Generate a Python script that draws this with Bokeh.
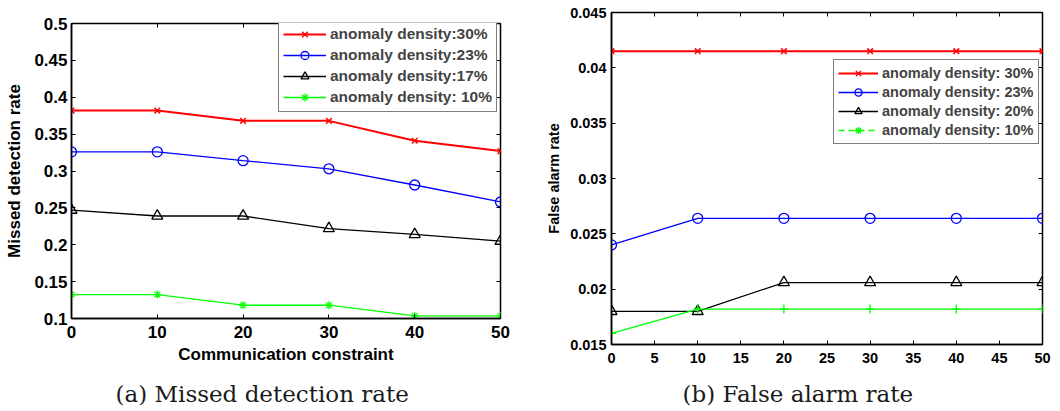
from bokeh.plotting import figure
from bokeh.layouts import row, column
from bokeh.models import (FixedTicker, LinearAxis, Legend, LegendItem, Label,
                          Range1d, ColumnDataSource)
from bokeh.embed import file_html
from bokeh.resources import INLINE

# ---------------- data ----------------
constraint = [0, 10, 20, 30, 40, 50]

miss_30 = [0.382, 0.382, 0.368, 0.368, 0.341, 0.327]
miss_23 = [0.326, 0.326, 0.314, 0.303, 0.281, 0.258]
miss_17 = [0.247, 0.239, 0.239, 0.222, 0.214, 0.205]
miss_10 = [0.1325, 0.1325, 0.118, 0.118, 0.1035, 0.1035]

fa_30 = [0.0415, 0.0415, 0.0415, 0.0415, 0.0415, 0.0415]
fa_23 = [0.0240, 0.0264, 0.0264, 0.0264, 0.0264, 0.0264]
fa_20 = [0.0180, 0.0180, 0.0206, 0.0206, 0.0206, 0.0206]
fa_10 = [0.0160, 0.0182, 0.0182, 0.0182, 0.0182, 0.0182]

left_xticks = [0, 10, 20, 30, 40, 50]
left_yticks = [0.1, 0.15, 0.2, 0.25, 0.3, 0.35, 0.4, 0.45, 0.5]
left_ylabels = ["0.1", "0.15", "0.2", "0.25", "0.3", "0.35", "0.4", "0.45", "0.5"]
right_xticks = [0, 5, 10, 15, 20, 25, 30, 35, 40, 45, 50]
right_yticks = [0.015, 0.02, 0.025, 0.03, 0.035, 0.04, 0.045]
right_ylabels = ["0.015", "0.02", "0.025", "0.03", "0.035", "0.04", "0.045"]

left_names = ["anomaly density:30%", "anomaly density:23%",
              "anomaly density:17%", "anomaly density: 10%"]
right_names = ["anomaly density: 30%", "anomaly density: 23%",
               "anomaly density: 20%", "anomaly density: 10%"]
captions = ["(a) Missed detection rate", "(b) False alarm rate"]

SANS = "Liberation Sans"
SERIF = "DejaVu Serif"


def style_axes(p, xticks, yticks, ylabels, tick_size):
    xa = p.below[0]
    ya = p.left[0]
    xa.ticker = FixedTicker(ticks=xticks)
    ya.ticker = FixedTicker(ticks=yticks)
    ya.major_label_overrides = {t: l for t, l in zip(yticks, ylabels)}
    for ax in (xa, ya):
        ax.major_tick_in = 4
        ax.major_tick_out = 0
        ax.minor_tick_line_color = None
        ax.axis_line_width = 1.5
        ax.major_tick_line_width = 1
        ax.major_label_text_font = SANS
        ax.major_label_text_font_style = "bold"
        ax.major_label_text_font_size = tick_size
        ax.major_label_text_color = "black"
        ax.axis_label_text_font = SANS
        ax.axis_label_text_font_style = "bold"
        ax.axis_label_text_color = "black"
    # top and right tick marks (box)
    top = LinearAxis(ticker=FixedTicker(ticks=xticks), major_tick_in=4, major_tick_out=0,
                     minor_tick_line_color=None, axis_line_color=None,
                     major_label_text_color=None, major_label_text_font_size="1px",
                     major_label_standoff=0)
    right = LinearAxis(ticker=FixedTicker(ticks=yticks), major_tick_in=4, major_tick_out=0,
                       minor_tick_line_color=None, axis_line_color=None,
                       major_label_text_color=None, major_label_text_font_size="1px",
                       major_label_standoff=0)
    p.add_layout(top, "above")
    p.add_layout(right, "right")
    p.xgrid.grid_line_color = None
    p.ygrid.grid_line_color = None
    p.outline_line_color = "black"
    p.outline_line_width = 1.5
    return xa, ya


def style_legend(leg, size, gw, gh):
    leg.label_text_font = SANS
    leg.label_text_font_style = "bold"
    leg.label_text_font_size = size
    leg.glyph_width = gw
    leg.glyph_height = gh
    leg.label_height = gh
    leg.spacing = 1
    leg.padding = 4
    leg.margin = 0
    leg.label_standoff = 4
    leg.border_line_color = "black"
    leg.border_line_width = 1.2
    leg.background_fill_alpha = 1


def caption_fig(text, x):
    c = figure(width=530, height=40, output_backend="svg", toolbar_location=None,
               x_range=Range1d(0, 1), y_range=Range1d(0, 1),
               x_axis_type=None, y_axis_type=None, min_border=0)
    c.outline_line_color = None
    c.xgrid.grid_line_color = None
    c.ygrid.grid_line_color = None
    c.add_layout(Label(x=x, y=18, x_units="screen", y_units="screen", text=text,
                       text_font=SERIF, text_font_size="23px", text_color="#1a1a1a",
                       text_align="left", text_baseline="middle"))
    return c


# ---------------- left figure ----------------
p1 = figure(width=530, height=371, output_backend="svg", toolbar_location=None,
            x_range=Range1d(0, 50), y_range=Range1d(0.1, 0.5),
            min_border_left=71, min_border_right=30, min_border_top=23,
            min_border_bottom=53)
xa1, ya1 = style_axes(p1, left_xticks, left_yticks, left_ylabels, "17px")
xa1.axis_label = "Communication constraint"
ya1.axis_label = "Missed detection rate"
xa1.axis_label_text_font_size = "17px"
ya1.axis_label_text_font_size = "17px"
xa1.major_label_standoff = 7
xa1.axis_label_standoff = 4
ya1.major_label_standoff = 4
ya1.axis_label_standoff = 7

src1 = ColumnDataSource(dict(x=constraint, a=miss_30, b=miss_23, c=miss_17, d=miss_10))
l1a = p1.line("x", "a", source=src1, line_color="#ff0000", line_width=2)
s1a = p1.scatter("x", "a", source=src1, marker="x", size=8, line_color="#ff0000", line_width=1.5)
l1b = p1.line("x", "b", source=src1, line_color="#0000ff", line_width=1.3)
s1b = p1.scatter("x", "b", source=src1, marker="circle", size=10, line_color="#0000ff",
                 fill_color=None, line_width=1.3)
l1c = p1.line("x", "c", source=src1, line_color="black", line_width=1.3)
s1c = p1.scatter("x", "c", source=src1, marker="triangle", size=11, line_color="black",
                 fill_color=None, line_width=1.3)
l1d = p1.line("x", "d", source=src1, line_color="#00ff00", line_width=1.3)
s1d = p1.scatter("x", "d", source=src1, marker="asterisk", size=8, line_color="#00ff00",
                 line_width=1.3)

leg1 = Legend(items=[
    LegendItem(label=left_names[0], renderers=[l1a, s1a]),
    LegendItem(label=left_names[1], renderers=[l1b, s1b]),
    LegendItem(label=left_names[2], renderers=[l1c, s1c]),
    LegendItem(label=left_names[3], renderers=[l1d, s1d]),
], location=(207, 206))
style_legend(leg1, "15.5px", 43, 20)
p1.add_layout(leg1, "center")

# ---------------- right figure ----------------
p2 = figure(width=530, height=371, output_backend="svg", toolbar_location=None,
            x_range=Range1d(0, 50), y_range=Range1d(0.015, 0.045),
            min_border_left=81, min_border_right=18, min_border_top=12,
            min_border_bottom=27)
xa2, ya2 = style_axes(p2, right_xticks, right_yticks, right_ylabels, "14.5px")
ya2.axis_label = "False alarm rate"
ya2.axis_label_text_font_size = "14.5px"
xa2.major_label_standoff = 8
ya2.major_label_standoff = 5
ya2.axis_label_standoff = 5

src2 = ColumnDataSource(dict(x=constraint, a=fa_30, b=fa_23, c=fa_20, d=fa_10))
l2a = p2.line("x", "a", source=src2, line_color="#ff0000", line_width=2)
s2a = p2.scatter("x", "a", source=src2, marker="x", size=8, line_color="#ff0000", line_width=1.5)
l2b = p2.line("x", "b", source=src2, line_color="#0000ff", line_width=1.3)
s2b = p2.scatter("x", "b", source=src2, marker="circle", size=10, line_color="#0000ff",
                 fill_color=None, line_width=1.3)
l2c = p2.line("x", "c", source=src2, line_color="black", line_width=1.3)
s2c = p2.scatter("x", "c", source=src2, marker="triangle", size=11, line_color="black",
                 fill_color=None, line_width=1.3)
l2d = p2.line("x", "d", source=src2, line_color="#00ff00", line_width=1.3)
s2d = p2.scatter("x", "d", source=src2, marker="cross", size=9, line_color="#00ff00",
                 line_width=1.3)
# key glyphs for the 10% series (dashed line with asterisk, as in the key)
nan = float("nan")
keysrc = ColumnDataSource(dict(x=[nan], y=[nan]))
k2d_line = p2.line("x", "y", source=keysrc, line_color="#00ff00", line_width=1.3,
                   line_dash="6 4")
k2d_mark = p2.scatter("x", "y", source=keysrc, marker="asterisk", size=8,
                      line_color="#00ff00", line_width=1.3)

leg2 = Legend(items=[
    LegendItem(label=right_names[0], renderers=[l2a, s2a]),
    LegendItem(label=right_names[1], renderers=[l2b, s2b]),
    LegendItem(label=right_names[2], renderers=[l2c, s2c]),
    LegendItem(label=right_names[3], renderers=[k2d_line, k2d_mark]),
], location=(222, 200))
style_legend(leg2, "14.5px", 40, 18)
p2.add_layout(leg2, "center")

cap1 = caption_fig(captions[0], 115)
cap2 = caption_fig(captions[1], 152)

layout = row(column(column(p1), column(cap1)), column(column(p2), column(cap2)))
open("out.html", "w").write(file_html(layout, INLINE))
